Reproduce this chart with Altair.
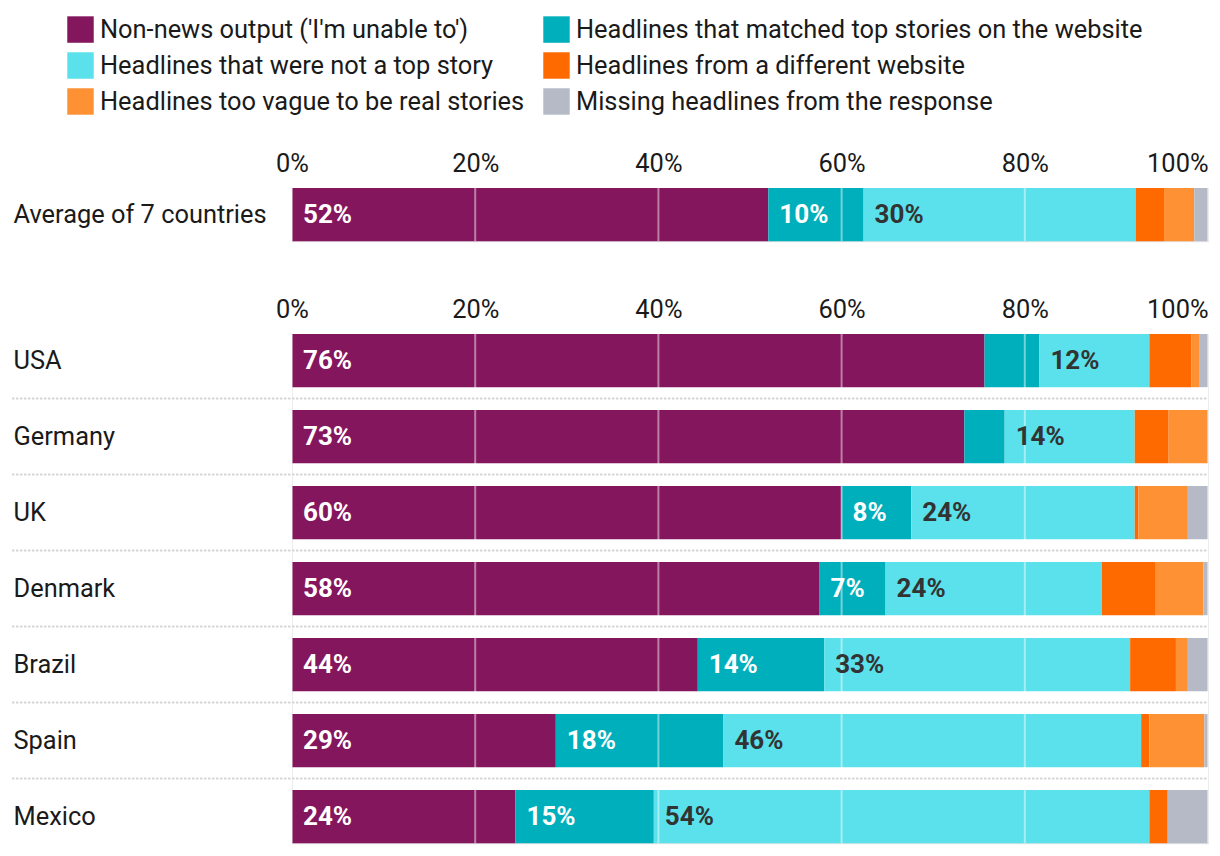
import altair as alt
import pandas as pd

categories = [
    "Non-news output ('I'm unable to')",
    "Headlines that matched top stories on the website",
    "Headlines that were not a top story",
    "Headlines from a different website",
    "Headlines too vague to be real stories",
    "Missing headlines from the response",
]
colors = ["#84165E", "#00AFBC", "#5AE1EB", "#FF6A00", "#FF9135", "#B5BAC6"]

avg_group = ["Average of 7 countries"]
avg_values = [52.0, 10.4, 29.7, 3.1, 3.3, 1.5]

countries = ["USA", "Germany", "UK", "Denmark", "Brazil", "Spain", "Mexico"]
non_news = [75.6, 73.4, 60.0, 57.6, 44.3, 28.8, 24.4]
matched = [6.0, 4.4, 7.6, 7.2, 13.8, 18.3, 15.1]
not_top = [12.0, 14.2, 24.4, 23.6, 33.4, 45.6, 54.1]
diff_site = [4.6, 3.7, 0.4, 5.9, 5.0, 0.9, 2.0]
too_vague = [0.9, 4.3, 5.4, 5.2, 1.3, 6.0, 0.0]
missing = [0.9, 0.0, 2.2, 0.5, 2.2, 0.4, 4.4]

tick_values = [0, 20, 40, 60, 80, 100]
label_threshold = 7


def build(groups, series):
    rows = []
    for gi, g in enumerate(groups):
        start = 0.0
        for ci, cat in enumerate(categories):
            v = series[ci][gi]
            rows.append({
                "group": g, "category": cat, "order": ci, "value": v,
                "start": start, "end": start + v,
                "label": f"{round(v)}%",
                "dark": cat == categories[2],
                "show": (ci < 3) and (v >= label_threshold),
            })
            start += v
    return pd.DataFrame(rows)


avg_df = build(avg_group, [[v] for v in avg_values])
cty_df = build(countries, [non_news, matched, not_top, diff_site, too_vague, missing])
grid_df = pd.DataFrame({"tick": tick_values})
sep_df = pd.DataFrame({"group": countries[1:]})

FONT = "Roboto"
FS = 25.4
BFS = 26
PLOT_W = 916
STEP = 76


def panel(df, groups, height, with_sep):
    x_axis = alt.Axis(
        orient="top", values=tick_values, labelExpr="datum.value + '%'",
        labelAlign=alt.ExprRef(expr="datum.value == 100 ? 'right' : 'center'"),
        grid=False, ticks=False, domain=False, labelFontSize=FS,
        labelPadding=12, labelColor="#1a1a1a", title=None, labelFont=FONT,
    )
    xscale = alt.Scale(domain=[0, 100], nice=False)
    yscale = alt.Scale(paddingInner=0.3, paddingOuter=0)
    y_axis = alt.Axis(
        title=None, labelAlign="left", labelPadding=279, labelFontSize=FS,
        ticks=False, domain=False, labelLimit=300, labelColor="#1a1a1a",
        labelFont=FONT,
    )
    y = alt.Y("group:N", sort=groups, scale=yscale, axis=y_axis)
    bars = alt.Chart(df).mark_bar(strokeWidth=0).encode(
        x=alt.X("start:Q", scale=xscale, axis=x_axis),
        x2="end:Q",
        y=y,
        color=alt.Color(
            "category:N", sort=categories,
            scale=alt.Scale(domain=categories, range=colors),
            legend=alt.Legend(
                title=None, orient="none", legendX=-225, legendY=-172,
                columns=2, symbolType="square", symbolSize=700,
                symbolStrokeWidth=0, labelFontSize=FS, labelFont=FONT,
                labelColor="#1a1a1a", labelLimit=800, rowPadding=9,
                columnPadding=18, labelOffset=6, direction="horizontal",
                padding=0,
            ),
        ),
        order=alt.Order("order:Q"),
    )
    grid = alt.Chart(grid_df).mark_rule(color="white", opacity=0.45, strokeWidth=2).encode(
        x=alt.X("tick:Q", scale=xscale)
    )
    layers = [bars, grid]
    if with_sep:
        sep = alt.Chart(sep_df).mark_rule(
            color="#d6d6d6", strokeWidth=2, strokeDash=[2.5, 1.5], yOffset=-11.4
        ).encode(
            y=alt.Y("group:N", sort=groups, bandPosition=0),
            x=alt.value(-280), x2=alt.value(PLOT_W),
        )
        layers.append(sep)
    base_text = alt.Chart(df)
    white = base_text.transform_filter("datum.show && !datum.dark").mark_text(
        align="left", baseline="middle", dx=11, fontSize=BFS,
        fontWeight="bold", font=FONT, color="white",
    ).encode(x="start:Q", y=alt.Y("group:N", sort=groups), text="label:N")
    dark = base_text.transform_filter("datum.show && datum.dark").mark_text(
        align="left", baseline="middle", dx=11, fontSize=BFS,
        fontWeight="bold", font=FONT, color="#333333",
    ).encode(x="start:Q", y=alt.Y("group:N", sort=groups), text="label:N")
    layers += [white, dark]
    return alt.layer(*layers).properties(width=PLOT_W, height=height)


top = panel(avg_df, avg_group, STEP * 0.7, False)
bottom = panel(cty_df, countries, STEP * 6.7, True)

chart = alt.vconcat(top, bottom, spacing=53).properties(
    padding={"left": 2, "top": 8, "right": 0, "bottom": 0}
).configure_view(stroke=None).configure(font=FONT)

chart.save("out.html", embed_options={"renderer": "svg", "actions": False})
